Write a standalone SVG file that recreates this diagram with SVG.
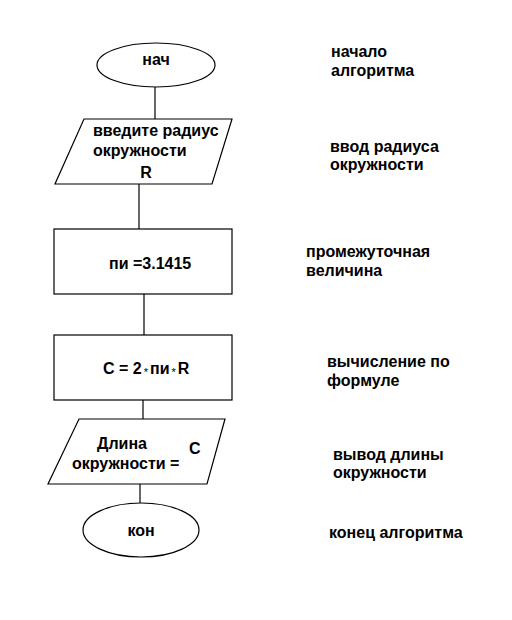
<svg xmlns="http://www.w3.org/2000/svg" width="512" height="620" viewBox="0 0 512 620">
<style>
.s{fill:#fff;stroke:#000;stroke-width:1.2}
.c{stroke:#000;stroke-width:1.2;fill:none}
text{font-family:"Liberation Sans",Arial,sans-serif;font-weight:bold;font-size:16px;fill:#000}
.m{text-anchor:middle}
.a{font-size:11px;font-weight:normal}
</style>
<rect width="512" height="620" fill="#fff"/>
<g id="connectors">
<line class="c" x1="155" y1="87" x2="155" y2="119"/>
<line class="c" x1="139" y1="184" x2="139" y2="229"/>
<line class="c" x1="144" y1="294" x2="144" y2="335"/>
<line class="c" x1="143" y1="400" x2="143" y2="419"/>
<line class="c" x1="140" y1="484" x2="140" y2="503"/>
</g>
<g id="start">
<ellipse class="s" cx="156" cy="65" rx="59" ry="22"/>
<text class="m" x="156" y="65">нач</text>
</g>
<g id="input">
<polygon class="s" points="84,119 232,119 212,184 55,184"/>
<text x="93" y="136">введите радиус</text>
<text x="93" y="156">окружности</text>
<text class="m" x="146" y="178">R</text>
</g>
<g id="pi">
<rect class="s" x="54" y="229" width="178" height="65"/>
<text x="109" y="269">пи =3.1415</text>
</g>
<g id="calc">
<rect class="s" x="54" y="335" width="178" height="65"/>
<text x="103" y="374">C = 2<tspan class="a" dx="2" dy="2">*</tspan><tspan dx="2" dy="-2">пи</tspan><tspan class="a" dx="2" dy="2">*</tspan><tspan dx="2" dy="-2">R</tspan></text>
</g>
<g id="output">
<polygon class="s" points="79,419 225,419 207,484 48,484"/>
<text x="97" y="449">Длина</text>
<text x="72" y="469">окружности =</text>
<text x="189" y="454">C</text>
</g>
<g id="end">
<ellipse class="s" cx="141" cy="530" rx="58" ry="27"/>
<text class="m" x="141" y="536">кон</text>
</g>
<g id="notes">
<text x="331" y="57">начало</text>
<text x="331" y="76">алгоритма</text>
<text x="330" y="152">ввод радиуса</text>
<text x="330" y="170">окружности</text>
<text x="306" y="257">промежуточная</text>
<text x="306" y="276">величина</text>
<text x="327" y="367">вычисление по</text>
<text x="327" y="386">формуле</text>
<text x="333" y="460">вывод длины</text>
<text x="333" y="478">окружности</text>
<text x="329" y="538">конец алгоритма</text>
</g>
</svg>
